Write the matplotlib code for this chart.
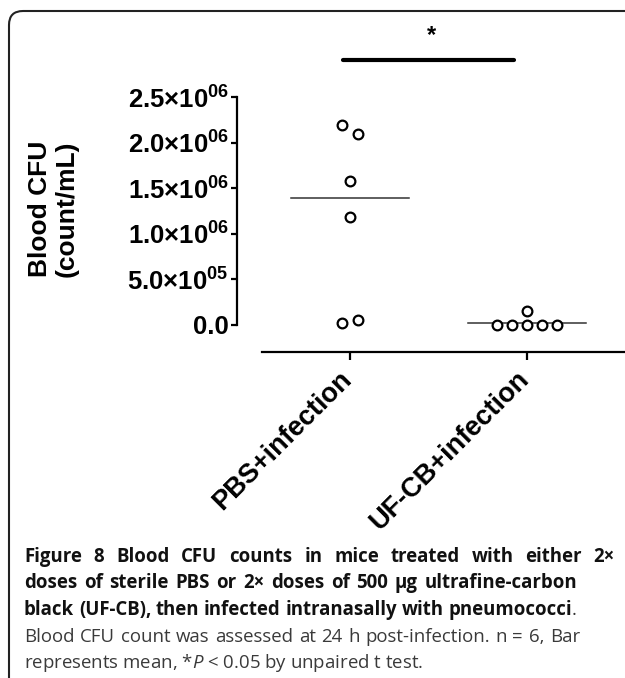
import matplotlib
matplotlib.use("Agg")
import matplotlib.pyplot as plt
from matplotlib.patches import FancyBboxPatch
from matplotlib.transforms import IdentityTransform, ScaledTranslation
import numpy as np

# data
groups = ["PBS+infection", "UF-CB+infection"]
pbs_cfu = [2.19e6, 2.09e6, 1.58e6, 1.18e6, 0.025e6, 0.055e6]
ufcb_cfu = [0.0, 0.0, 0.0, 0.0, 0.0, 0.15e6]
group_means = [1.39e6, 0.025e6]
yticks = [0.0, 0.5e6, 1.0e6, 1.5e6, 2.0e6, 2.5e6]
ytick_labels = ["0.0", "5.0×10^{05}", "1.0×10^{06}", "1.5×10^{06}", "2.0×10^{06}", "2.5×10^{06}"]
caption_bold = ["Figure 8 Blood CFU counts in mice treated with either 2×",
                "doses of sterile PBS or 2× doses of 500 µg ultrafine-carbon",
                "black (UF-CB), then infected intranasally with pneumococci"]
caption_plain = ["Blood CFU count was assessed at 24 h post-infection. n = 6, Bar",
                 "represents mean, *$P$ < 0.05 by unpaired t test."]

plt.rcParams['font.family'] = ['Liberation Sans', 'DejaVu Sans']
plt.rcParams['mathtext.fontset'] = 'custom'
plt.rcParams['mathtext.rm'] = 'Liberation Sans:bold'
plt.rcParams['mathtext.bf'] = 'Liberation Sans:bold'
plt.rcParams['mathtext.it'] = 'Open Sans:italic'


def swarm(vals, thresh=0.12e6, step=0.085):
    # simple dot spreading: points close in value get placed side by side
    offs = np.zeros(len(vals))
    used = [False] * len(vals)
    for i in range(len(vals)):
        if used[i]:
            continue
        members = [j for j in range(i, len(vals)) if not used[j] and abs(vals[j] - vals[i]) < thresh]
        for k, j in enumerate(members):
            offs[j] = (k - (len(members) - 1) / 2) * step
            used[j] = True
    return offs


W, H = 625, 678
fig = plt.figure(figsize=(W / 100, H / 100), dpi=100)

# rounded frame around the figure panel (pixel coords, runs off right/bottom)
frame = FancyBboxPatch((9, -60), 1000, H - 11 + 60,
                       boxstyle="round,pad=0,rounding_size=14",
                       transform=IdentityTransform(), fill=False,
                       ec="#222222", lw=1.5)
fig.patches.append(frame)

ax = fig.add_axes([237 / W, 1 - 325 / H, (W - 237) / W, 228 / H])
ax.set_xlim(-113 / 177, 1 + 98 / 177)
ax.set_ylim(0, 2.5e6)

for i, vals in enumerate([pbs_cfu, ufcb_cfu]):
    xs = i + swarm(vals)
    ax.plot(xs, vals, 'o', ms=7, mfc='white', mec='black', mew=1.6,
            clip_on=False, zorder=3)
    ax.plot([i - 0.335, i + 0.335], [group_means[i]] * 2, color='#333333',
            lw=1.1, clip_on=False, zorder=2)

for s in ['top', 'right']:
    ax.spines[s].set_visible(False)
ax.spines['left'].set_linewidth(1.6)
ax.spines['bottom'].set_linewidth(1.6)
ax.spines['bottom'].set_position(('outward', 19.5))
ax.spines['bottom'].set_bounds(-0.5, 1 + 98 / 177)

ax.set_yticks(yticks)
ax.set_yticklabels(["$\\mathbf{" + t + "}$" if "^" in t else t for t in ytick_labels],
                   fontsize=18.5, fontweight='bold')
ax.tick_params(axis='y', length=4.5, width=1.6, pad=1.5)
ax.set_xticks([0, 1])
ax.set_xticklabels(groups, rotation=45, ha='right', rotation_mode='anchor',
                   fontsize=19.5, fontweight='bold')
ax.tick_params(axis='x', length=6, width=1.6, pad=4)
shift = ScaledTranslation(-0.11, 0, fig.dpi_scale_trans)
for lab in ax.get_xticklabels():
    lab.set_transform(lab.get_transform() + shift)

# significance bar
ax.plot([-0.04, 0.927], [2.906e6, 2.906e6], color='black', lw=3,
        solid_capstyle='round', clip_on=False)
ax.text(0.463, 3.17e6, "*", ha='center', va='center', fontsize=17,
        fontweight='bold', clip_on=False)

fig.text(53 / W, 1 - 209 / H, "Blood CFU\n(count/mL)", rotation=90,
         ha='center', va='center', fontsize=19, fontweight='bold',
         linespacing=1.15)

# caption, justified line by line like the journal layout
cap_x0 = 24
cap_y = [557, 583, 610, 637, 663]
cap_x1 = [615, 577, 572, 580]
cap_fs = 13.4
renderer = fig.canvas.get_renderer()


def justified(line, y, x0, x1, **kw):
    words = line.split(" ")
    txts = [fig.text(0, 1 - y / H, w, fontsize=cap_fs, family='Open Sans',
                     va='center', **kw) for w in words]
    widths = [t.get_window_extent(renderer).width for t in txts]
    gap = (x1 - x0 - sum(widths)) / (len(words) - 1)
    x = x0
    for t, w in zip(txts, widths):
        t.set_x(x / W)
        x += w + gap
    return x - gap


for k, line in enumerate(caption_bold):
    end = justified(line, cap_y[k], cap_x0, cap_x1[k], fontweight='bold', color='#111111')
fig.text(end / W, 1 - cap_y[2] / H, ".", fontsize=cap_fs, family='Open Sans',
         va='center', color='#333333')
justified(caption_plain[0], cap_y[3], cap_x0, cap_x1[3], color='#3a3a3a')
fig.text(cap_x0 / W, 1 - cap_y[4] / H, caption_plain[1], fontsize=cap_fs,
         family='Open Sans', va='center', color='#3a3a3a')

fig.savefig("out.png", dpi=100)
